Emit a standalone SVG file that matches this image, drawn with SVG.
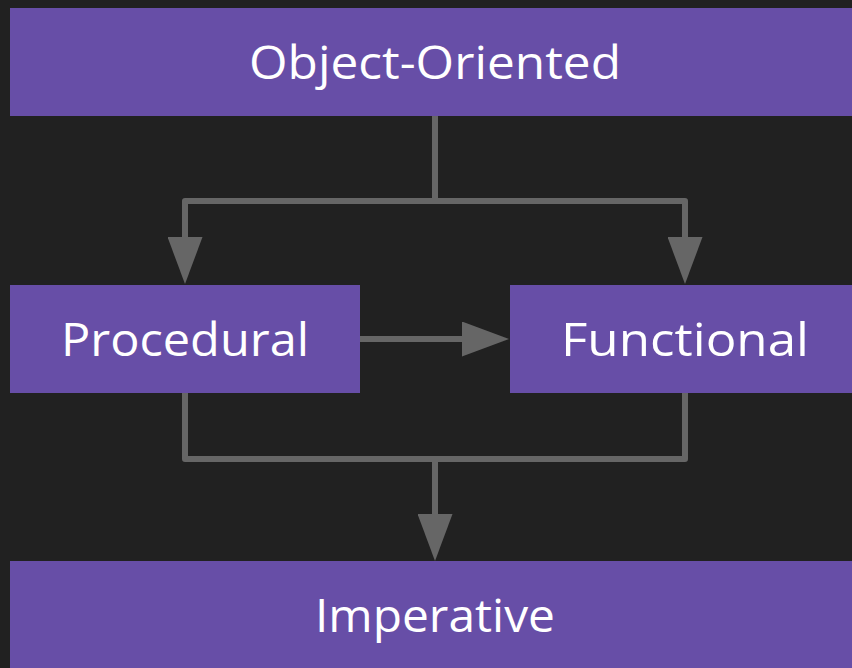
<svg xmlns="http://www.w3.org/2000/svg" width="852" height="668" viewBox="0 0 852 668">
<style>
.box{fill:#674ea7}
.lbl{fill:#ffffff;font-family:"Open Sans","Noto Sans",sans-serif;font-size:46px;text-anchor:middle}
.wire{fill:none;stroke:#666666;stroke-width:6;stroke-linejoin:round}
</style>
<defs>
<marker id="ah" viewBox="0 0 47 35" refX="0" refY="17.5" markerWidth="47" markerHeight="35" markerUnits="userSpaceOnUse" orient="auto">
<path d="M0,0 L47,17.5 L0,35 Z" fill="#666666"/>
</marker>
</defs>
<rect width="852" height="668" fill="#212121"/>
<g id="connectors">
<path class="wire" d="M435,116 V201 H185 V237" marker-end="url(#ah)"/>
<path class="wire" d="M435,201 H685 V237" marker-end="url(#ah)"/>
<path class="wire" d="M360,339 H462" marker-end="url(#ah)"/>
<path class="wire" d="M185,393 V459 H685 V393"/>
<path class="wire" d="M435,459 V514" marker-end="url(#ah)"/>
</g>
<g id="object-oriented">
<rect class="box" x="10" y="8" width="850" height="108"/>
<text class="lbl" x="435" y="79" textLength="372" lengthAdjust="spacingAndGlyphs">Object-Oriented</text>
</g>
<g id="procedural">
<rect class="box" x="10" y="285" width="350" height="108"/>
<text class="lbl" x="185" y="356" textLength="248" lengthAdjust="spacingAndGlyphs">Procedural</text>
</g>
<g id="functional">
<rect class="box" x="510" y="285" width="350" height="108"/>
<text class="lbl" x="685" y="356" textLength="248" lengthAdjust="spacingAndGlyphs">Functional</text>
</g>
<g id="imperative">
<rect class="box" x="10" y="561" width="850" height="108"/>
<text class="lbl" x="435" y="632" textLength="240" lengthAdjust="spacingAndGlyphs">Imperative</text>
</g>
</svg>
